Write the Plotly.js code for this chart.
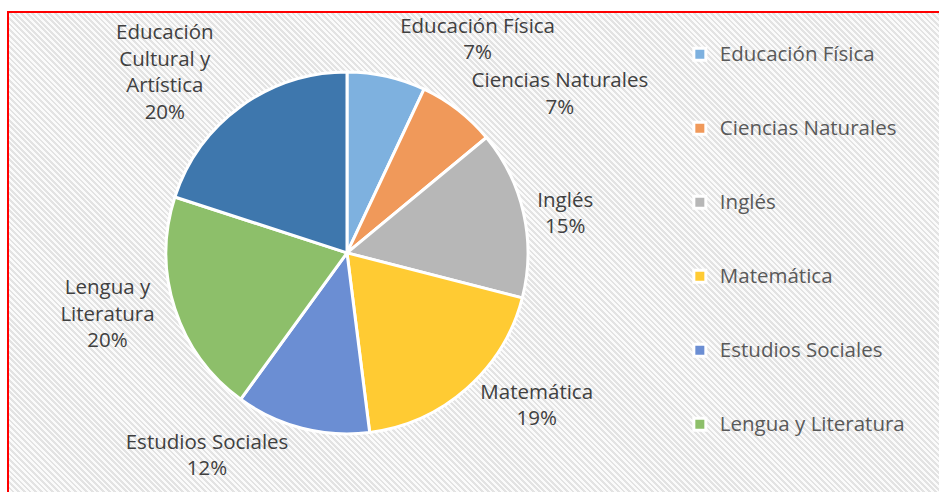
<!DOCTYPE html>
<html>
<head>
<meta charset="utf-8">
<script src="https://cdn.plot.ly/plotly-3.0.1.min.js"></script>
<style>
  body { margin: 0; background: #fff; }
  #frame {
    position: absolute; left: 7px; top: 11px; width: 940px; height: 490px;
    border-left: 2px solid #ff0000; border-top: 2px solid #ff0000;
    background: repeating-linear-gradient(45deg, #fbfbfb 0px, #fbfbfb 2px, #e3e3e3 2px, #e3e3e3 4px);
  }
  #chart { position: absolute; left: 0; top: 0; width: 939px; height: 492px; }
  /* the original has no leader lines */
  #chart .textline { display: none; }
</style>
</head>
<body>
<div id="frame"></div>
<div id="chart"></div>
<script>
// subjects, in the order the slices run clockwise from 12 o'clock
var subjects = ['Educación Física', 'Ciencias Naturales', 'Inglés', 'Matemática',
  'Estudios Sociales', 'Lengua y Literatura', 'Educación Cultural y Artística'];
var shares = [7, 7, 15, 19, 12, 20, 20];
// how the slice labels wrap
var sliceText = ['Educación Física', 'Ciencias Naturales', 'Inglés', 'Matemática',
  'Estudios Sociales', 'Lengua y<br>Literatura', 'Educación<br>Cultural y<br>Artística'];
var sliceColors = ['#7eb1df', '#f0995a', '#b7b7b7', '#ffcb33', '#6b8ed3', '#8dbf6a', '#3e77ad'];

// blank lines round each legend name give the wide spacing of the original legend;
// the last entry gets more so it falls below the frame, as in the original
var legendNames = subjects.map(function (s, i) {
  var pad = (i === subjects.length - 1) ? '&nbsp;<br>&nbsp;<br>' : '&nbsp;<br>';
  var padEnd = (i === subjects.length - 1) ? '<br>&nbsp;<br>&nbsp;' : '<br>&nbsp;';
  return pad + '<span style="font-size:20.5px">' + s + '</span>' + padEnd;
});

var pieTrace = {
  type: 'pie',
  labels: legendNames,
  values: shares,
  text: sliceText,
  sort: false,
  direction: 'clockwise',
  rotation: 0,
  textposition: 'outside',
  texttemplate: '%{text}<br>%{percent:.0%}',
  outsidetextfont: { family: 'Open Sans', size: 20.5, color: '#404040' },
  marker: { colors: sliceColors, line: { color: '#ffffff', width: 3 } },
  domain: { x: [0.1768, 0.5623], y: [0.118, 0.854] },
  hoverinfo: 'text+percent'
};

var layout = {
  width: 939,
  height: 492,
  margin: { l: 0, r: 0, t: 0, b: 0, autoexpand: false },
  paper_bgcolor: 'rgba(0,0,0,0)',
  plot_bgcolor: 'rgba(0,0,0,0)',
  font: { family: 'Open Sans', size: 18.2, color: '#595959' },
  showlegend: true,
  legend: {
    x: 0.724, xanchor: 'left',
    y: 0.975, yanchor: 'top',
    bgcolor: 'rgba(0,0,0,0)',
    maxheight: 1200,
    font: { family: 'Open Sans', size: 18.2, color: '#595959' }
  }
};

Plotly.newPlot('chart', [pieTrace], layout, { displayModeBar: false, staticPlot: true });
</script>
</body>
</html>
